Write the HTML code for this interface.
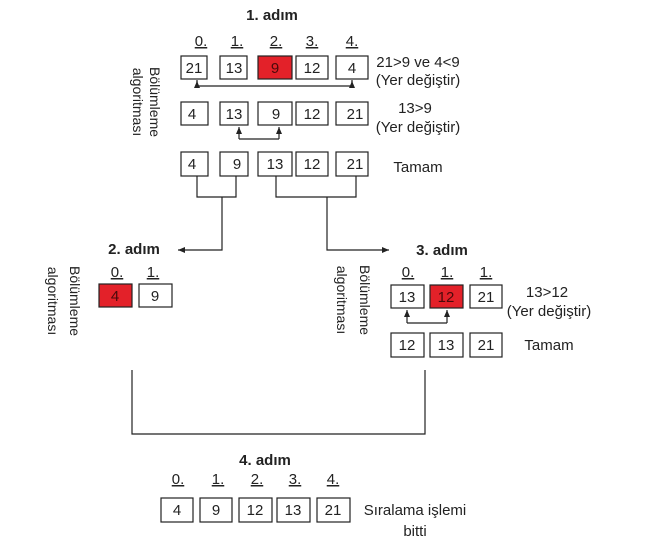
<!DOCTYPE html>
<html><head><meta charset="utf-8"><style>
body{margin:0;background:#fff;}
svg text{font-family:"Liberation Sans",sans-serif;fill:#222;}
</style></head><body>
<svg width="661" height="549" viewBox="0 0 661 549" xmlns="http://www.w3.org/2000/svg">
<defs><marker id="a" markerWidth="8" markerHeight="8" refX="7" refY="4" orient="auto" markerUnits="userSpaceOnUse"><path d="M0,1 L7,4 L0,7 z" fill="#222"/></marker></defs>
<g stroke="#222" stroke-width="1.2" fill="#fff">
<!-- row1 -->
<rect x="181" y="56" width="26" height="23"/><rect x="220" y="56" width="27" height="23"/><rect x="258" y="56" width="34" height="23" fill="#e32129"/><rect x="296" y="56" width="32" height="23"/><rect x="336" y="56" width="32" height="23"/>
<rect x="181" y="102" width="27" height="23"/><rect x="220" y="102" width="28" height="23"/><rect x="258" y="102" width="34" height="23"/><rect x="296" y="102" width="32" height="23"/><rect x="336" y="102" width="32" height="23"/>
<rect x="181" y="152" width="27" height="24"/><rect x="220" y="152" width="28" height="24"/><rect x="258" y="152" width="34" height="24"/><rect x="296" y="152" width="32" height="24"/><rect x="336" y="152" width="32" height="24"/>
<!-- step2 -->
<rect x="99" y="284" width="33" height="23" fill="#e32129"/><rect x="139" y="284" width="33" height="23"/>
<!-- step3 -->
<rect x="391" y="285" width="33" height="23"/><rect x="430" y="285" width="33" height="23" fill="#e32129"/><rect x="470" y="285" width="32" height="23"/>
<rect x="391" y="333" width="33" height="24"/><rect x="430" y="333" width="33" height="24"/><rect x="470" y="333" width="32" height="24"/>
<!-- step4 -->
<rect x="161" y="498" width="32" height="24"/><rect x="200" y="498" width="32" height="24"/><rect x="239" y="498" width="33" height="24"/><rect x="277" y="498" width="33" height="24"/><rect x="317" y="498" width="33" height="24"/>
</g>
<g stroke="#222" stroke-width="1.2" fill="none">
<path d="M197,86 H352 M197,86 V80 M352,86 V80"/>
<path d="M197,86 V81" marker-end="url(#a)"/><path d="M352,86 V81" marker-end="url(#a)"/>
<path d="M239,139 H279"/><path d="M239,139 V127" marker-end="url(#a)"/><path d="M279,139 V127" marker-end="url(#a)"/>
<path d="M197,176 V197 H236 V176 M222,197 V250 H178" marker-end="url(#a)"/>
<path d="M276,176 V197 H356 V176 M327,197 V250 H389" marker-end="url(#a)"/>
<path d="M407,323 H447"/><path d="M407,323 V310" marker-end="url(#a)"/><path d="M447,323 V310" marker-end="url(#a)"/>
<path d="M132,370 V434 H425 V370"/>
</g>
<g font-size="15" text-anchor="middle">
<text x="272" y="20" font-weight="bold">1. adım</text>
<text x="201" y="46" text-decoration="underline">0.</text><text x="237" y="46" text-decoration="underline">1.</text><text x="276" y="46" text-decoration="underline">2.</text><text x="312" y="46" text-decoration="underline">3.</text><text x="352" y="46" text-decoration="underline">4.</text>
<text x="194" y="73">21</text><text x="234" y="73">13</text><text x="275" y="73" style="fill:#4a0a0a">9</text><text x="312" y="73">12</text><text x="352" y="73">4</text>
<text x="192" y="119">4</text><text x="234" y="119">13</text><text x="276" y="119">9</text><text x="312" y="119">12</text><text x="355" y="119">21</text>
<text x="192" y="169">4</text><text x="237" y="169">9</text><text x="275" y="169">13</text><text x="312" y="169">12</text><text x="355" y="169">21</text>
<text x="418" y="67">21&gt;9 ve 4&lt;9</text><text x="418" y="85">(Yer değiştir)</text>
<text x="415" y="113">13&gt;9</text><text x="418" y="132">(Yer değiştir)</text>
<text x="418" y="172">Tamam</text>
<text x="134" y="254" font-weight="bold">2. adım</text>
<text x="117" y="277" text-decoration="underline">0.</text><text x="153" y="277" text-decoration="underline">1.</text>
<text x="115" y="301" style="fill:#4a0a0a">4</text><text x="155" y="301">9</text>
<text x="442" y="255" font-weight="bold">3. adım</text>
<text x="408" y="277" text-decoration="underline">0.</text><text x="447" y="277" text-decoration="underline">1.</text><text x="486" y="277" text-decoration="underline">1.</text>
<text x="407" y="302">13</text><text x="446" y="302" style="fill:#4a0a0a">12</text><text x="486" y="302">21</text>
<text x="407" y="350">12</text><text x="446" y="350">13</text><text x="486" y="350">21</text>
<text x="547" y="297">13&gt;12</text><text x="549" y="316">(Yer değiştir)</text>
<text x="549" y="350">Tamam</text>
<text x="265" y="465" font-weight="bold">4. adım</text>
<text x="178" y="484" text-decoration="underline">0.</text><text x="218" y="484" text-decoration="underline">1.</text><text x="257" y="484" text-decoration="underline">2.</text><text x="295" y="484" text-decoration="underline">3.</text><text x="333" y="484" text-decoration="underline">4.</text>
<text x="177" y="515">4</text><text x="216" y="515">9</text><text x="255" y="515">12</text><text x="293" y="515">13</text><text x="333" y="515">21</text>
<text x="415" y="515">Sıralama işlemi</text><text x="415" y="536">bitti</text>
</g>
<g font-size="14" text-anchor="middle">
<text transform="translate(155,102) rotate(90)" y="5">Bölümleme</text>
<text transform="translate(138,102) rotate(90)" y="5">algoritması</text>
<text transform="translate(75,301) rotate(90)" y="5">Bölümleme</text>
<text transform="translate(53,301) rotate(90)" y="5">algoritması</text>
<text transform="translate(365,300) rotate(90)" y="5">Bölümleme</text>
<text transform="translate(342,300) rotate(90)" y="5">algoritması</text>
</g>
</svg>
</body></html>
